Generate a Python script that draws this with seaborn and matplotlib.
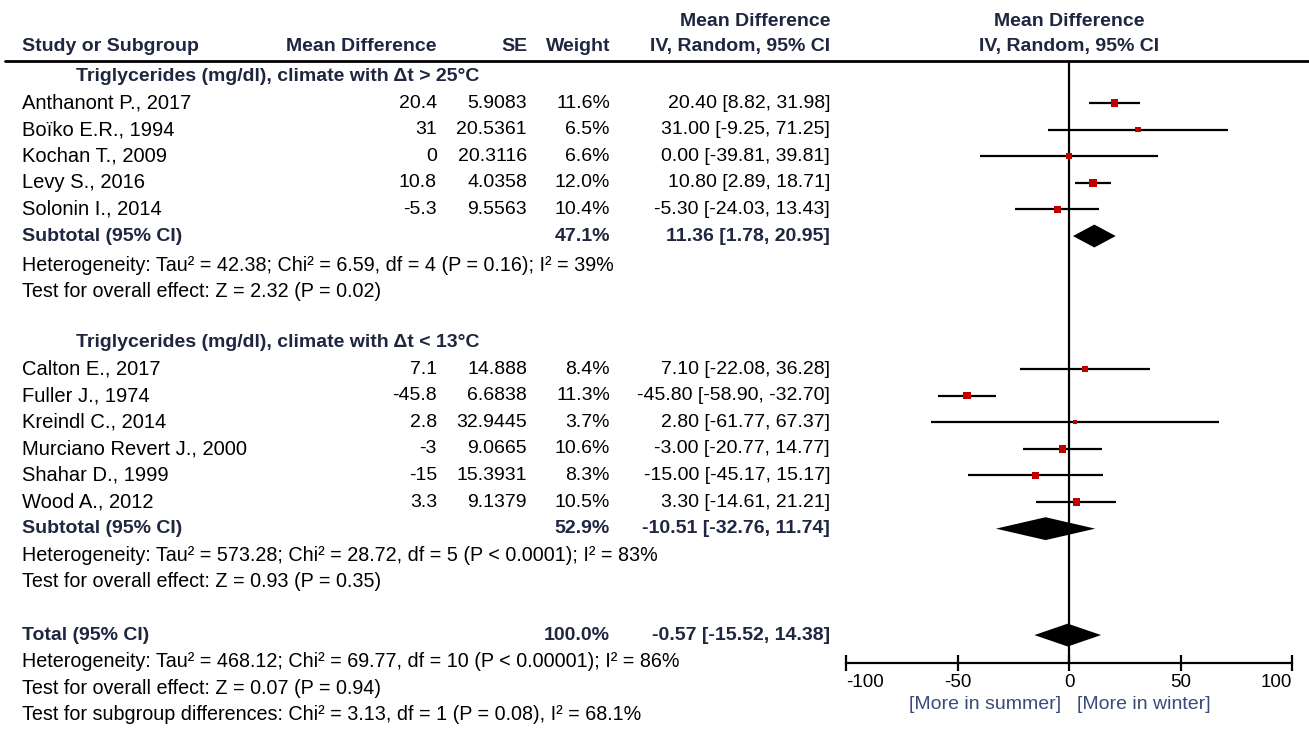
import matplotlib
matplotlib.use('Agg')
import numpy as np
import pandas as pd
import matplotlib.pyplot as plt
import matplotlib.transforms as mtransforms
from matplotlib.lines import Line2D
import seaborn as sns

# subgroup 1: climate with dt > 25 C
group1 = 'Triglycerides (mg/dl), climate with Δt > 25°C'
names1 = ['Anthanont P., 2017', 'Boïko E.R., 1994', 'Kochan T., 2009', 'Levy S., 2016', 'Solonin I., 2014']
md1 = [20.4, 31, 0, 10.8, -5.3]
se1 = [5.9083, 20.5361, 20.3116, 4.0358, 9.5563]
weight1 = [11.6, 6.5, 6.6, 12.0, 10.4]
lo1 = [8.82, -9.25, -39.81, 2.89, -24.03]
hi1 = [31.98, 71.25, 39.81, 18.71, 13.43]
sub1 = [11.36, 1.78, 20.95]
subw1 = 47.1
het1 = 'Heterogeneity: Tau² = 42.38; Chi² = 6.59, df = 4 (P = 0.16); I² = 39%'
test1 = 'Test for overall effect: Z = 2.32 (P = 0.02)'

# subgroup 2: climate with dt < 13 C
group2 = 'Triglycerides (mg/dl), climate with Δt < 13°C'
names2 = ['Calton E., 2017', 'Fuller J., 1974', 'Kreindl C., 2014', 'Murciano Revert J., 2000',
          'Shahar D., 1999', 'Wood A., 2012']
md2 = [7.1, -45.8, 2.8, -3, -15, 3.3]
se2 = [14.888, 6.6838, 32.9445, 9.0665, 15.3931, 9.1379]
weight2 = [8.4, 11.3, 3.7, 10.6, 8.3, 10.5]
lo2 = [-22.08, -58.90, -61.77, -20.77, -45.17, -14.61]
hi2 = [36.28, -32.70, 67.37, 14.77, 15.17, 21.21]
sub2 = [-10.51, -32.76, 11.74]
subw2 = 52.9
het2 = 'Heterogeneity: Tau² = 573.28; Chi² = 28.72, df = 5 (P < 0.0001); I² = 83%'
test2 = 'Test for overall effect: Z = 0.93 (P = 0.35)'

# overall
total = [-0.57, -15.52, 14.38]
totalw = 100.0
het_tot = 'Heterogeneity: Tau² = 468.12; Chi² = 69.77, df = 10 (P < 0.00001); I² = 86%'
test_tot = 'Test for overall effect: Z = 0.07 (P = 0.94)'
test_sub = 'Test for subgroup differences: Chi² = 3.13, df = 1 (P = 0.08), I² = 68.1%'

ticks = [-100, -50, 0, 50, 100]
left_label = '[More in summer]'
right_label = '[More in winter]'

# row layout
rows1 = np.arange(1, 1 + len(names1))
rows2 = np.arange(11, 11 + len(names2))
df = pd.DataFrame({
    'name': names1 + names2,
    'md': md1 + md2,
    'se': se1 + se2,
    'weight': weight1 + weight2,
    'lo': lo1 + lo2,
    'hi': hi1 + hi2,
    'row': np.concatenate([rows1, rows2]),
})

W, H = 1309, 733
sns.set_theme(style='white')
plt.rcParams['font.family'] = ['Liberation Sans', 'DejaVu Sans']

fig = plt.figure(figsize=(W / 100, H / 100), dpi=100)
ax = fig.add_axes([846 / W, 70 / H, (1292 - 846) / W, (663 - 61) / H])

red = '#c00000'
navy = '#1e2640'
fs = 14

# whiskers and study squares
ax.hlines(df['row'], df['lo'], df['hi'], color='black', lw=1.6, zorder=2)
wmin, wmax = df['weight'].min(), df['weight'].max()
sns.scatterplot(data=df, x='md', y='row', size='weight', sizes=(2.6 * wmin, 2.6 * wmax),
                size_norm=(wmin, wmax), marker='s', color=red, linewidth=0,
                legend=False, ax=ax, zorder=3)

# diamonds
for est, lo, hi, r in [(sub1[0], sub1[1], sub1[2], 6), (sub2[0], sub2[1], sub2[2], 17),
                       (total[0], total[1], total[2], 21)]:
    ax.fill([lo, est, hi, est], [r, r - 0.43, r, r + 0.43], color='black', lw=0, zorder=3)

ax.axvline(0, color='black', lw=1.6, zorder=1)
ax.set_xlim(-100, 100)
ax.set_ylim(22.05, -0.58)
ax.set_xlabel('')
ax.set_ylabel('')
ax.set_yticks([])
for s in ['top', 'left', 'right']:
    ax.spines[s].set_visible(False)
ax.spines['bottom'].set_color('black')
ax.spines['bottom'].set_linewidth(1.6)
ax.set_xticks(ticks)
ax.set_xticklabels([f'{t}' for t in ticks])
ax.tick_params(axis='x', direction='inout', length=12, width=1.6, color='black',
               labelsize=13.5, labelcolor='black', pad=2, bottom=True)
labels = ax.get_xticklabels()
labels[0].set_ha('left')
labels[-1].set_ha('right')

ax.text(-3.5, 23.6, left_label, ha='right', va='center', fontsize=14, color='#3b4a7c',
        clip_on=False)
ax.text(3.5, 23.6, right_label, ha='left', va='center', fontsize=14, color='#3b4a7c',
        clip_on=False)

# table text
tr = mtransforms.blended_transform_factory(fig.transFigure, ax.transData)
x_name, x_grp, x_md, x_se, x_w, x_ci = 22 / W, 76 / W, 437 / W, 527 / W, 610 / W, 830 / W


def put(x, r, s, ha='left', bold=False, color='black', **kw):
    ax.text(x, r, s, transform=tr, ha=ha, va='center', color=color,
            fontweight='bold' if bold else 'normal', clip_on=False, **kw)


# headers
put(x_ci, -2.05, 'Mean Difference', ha='right', bold=True, color=navy, fontsize=fs)
put(x_name, -1.14, 'Study or Subgroup', bold=True, color=navy, fontsize=fs)
put(x_md, -1.14, 'Mean Difference', ha='right', bold=True, color=navy, fontsize=fs)
put(x_se, -1.14, 'SE', ha='right', bold=True, color=navy, fontsize=fs)
put(x_w, -1.14, 'Weight', ha='right', bold=True, color=navy, fontsize=fs)
put(x_ci, -1.14, 'IV, Random, 95% CI', ha='right', bold=True, color=navy, fontsize=fs)
ax.text(0, -2.05, 'Mean Difference', ha='center', va='center', fontweight='bold',
        color=navy, fontsize=fs, clip_on=False)
ax.text(0, -1.14, 'IV, Random, 95% CI', ha='center', va='center', fontweight='bold',
        color=navy, fontsize=fs, clip_on=False)
fig.add_artist(Line2D([5 / W, 1], [1 - 61 / H, 1 - 61 / H], color='black', lw=2))

# study rows
for _, d in df.iterrows():
    r = d['row']
    put(x_name, r, d['name'], fontsize=14.5)
    put(x_md, r, f"{d['md']:g}", ha='right', fontsize=fs)
    put(x_se, r, f"{d['se']:g}", ha='right', fontsize=fs)
    put(x_w, r, f"{d['weight']:.1f}%", ha='right', fontsize=fs)
    put(x_ci, r, f"{d['md']:.2f} [{d['lo']:.2f}, {d['hi']:.2f}]", ha='right', fontsize=fs)

# subgroup / total rows
put(x_grp, 0, group1, bold=True, color=navy, fontsize=fs)
put(x_grp, 10, group2, bold=True, color=navy, fontsize=fs)
for lab, vals, w, r in [('Subtotal (95% CI)', sub1, subw1, 6), ('Subtotal (95% CI)', sub2, subw2, 17),
                        ('Total (95% CI)', total, totalw, 21)]:
    put(x_name, r, lab, bold=True, color=navy, fontsize=fs)
    put(x_w, r, f'{w:.1f}%', ha='right', bold=True, color=navy, fontsize=fs)
    put(x_ci, r, f'{vals[0]:.2f} [{vals[1]:.2f}, {vals[2]:.2f}]', ha='right', bold=True,
        color=navy, fontsize=fs)

# heterogeneity / test lines
for s, r in [(het1, 7.1), (test1, 8.1), (het2, 18), (test2, 19), (het_tot, 22), (test_tot, 23),
             (test_sub, 24)]:
    put(x_name, r, s, fontsize=14.2)

fig.savefig('out.png', dpi=100)
